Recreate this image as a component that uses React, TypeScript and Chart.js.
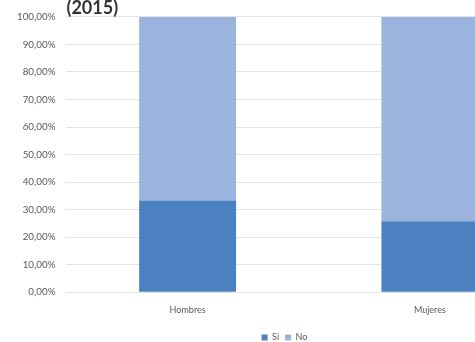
import React, { useEffect, useRef } from "react";
import { Chart, registerables } from "chart.js";

Chart.register(...registerables);

const categories = ["Hombres", "Mujeres"];
const siValues = [33.3, 25.8];
const noValues = [66.7, 74.2];
const yTicks = [0, 10, 20, 30, 40, 50, 60, 70, 80, 90, 100];
const titleText = "(2015)";

const fmt = (v: number) => v.toFixed(2).replace(".", ",") + "%";

export default function App() {
  const ref = useRef<HTMLCanvasElement | null>(null);
  useEffect(() => {
    if (!ref.current) return;
    const font = "Lato, 'DejaVu Sans', sans-serif";
    const chart = new Chart(ref.current, {
      type: "bar",
      data: {
        labels: categories,
        datasets: [
          { label: "Si", data: siValues, backgroundColor: "#4b80c1", borderWidth: 0, categoryPercentage: 0.8, barPercentage: 0.5 },
          { label: "No", data: noValues, backgroundColor: "#9ab4de", borderWidth: 0, categoryPercentage: 0.8, barPercentage: 0.5 },
        ],
      },
      options: {
        animation: false,
        responsive: false,
        layout: { padding: { left: 18, right: 27, top: 0, bottom: 0 } },
        plugins: {
          title: {
            display: true,
            text: titleText,
            align: "start",
            fullSize: false,
            color: "#333333",
            font: { family: font, size: 18, weight: "bold", lineHeight: 0.85 },
            padding: { top: 0, bottom: 1 },
          },
          legend: {
            position: "bottom",
            labels: {
              boxWidth: 6,
              boxHeight: 6,
              padding: 6,
              color: "#595959",
              font: { family: font, size: 9 },
            },
          },
          tooltip: { enabled: false },
        },
        scales: {
          x: {
            stacked: true,
            grid: { display: false },
            border: { display: false },
            ticks: { color: "#595959", font: { family: font, size: 9 }, padding: 4 },
            afterFit: (s: any) => {
              s.height += 8;
            },
          },
          y: {
            stacked: true,
            min: 0,
            max: 100,
            afterBuildTicks: (s: any) => {
              s.ticks = yTicks.map((v) => ({ value: v }));
            },
            afterFit: (s: any) => {
              s.width -= 12;
            },
            grid: { color: "#e3e3e3", drawTicks: false },
            border: { display: false },
            ticks: {
              color: "#595959",
              font: { family: font, size: 9.8 },
              padding: 11,
              callback: (v: any) => fmt(Number(v)),
            },
          },
        },
      },
    });
    return () => chart.destroy();
  }, []);
  return (
    <div style={{ position: "fixed", left: 0, top: 0, width: 475, height: 342, overflow: "hidden", background: "#ffffff" }}>
      <canvas ref={ref} width={578} height={352} style={{ position: "absolute", left: 0, top: 0 }} />
    </div>
  );
}
